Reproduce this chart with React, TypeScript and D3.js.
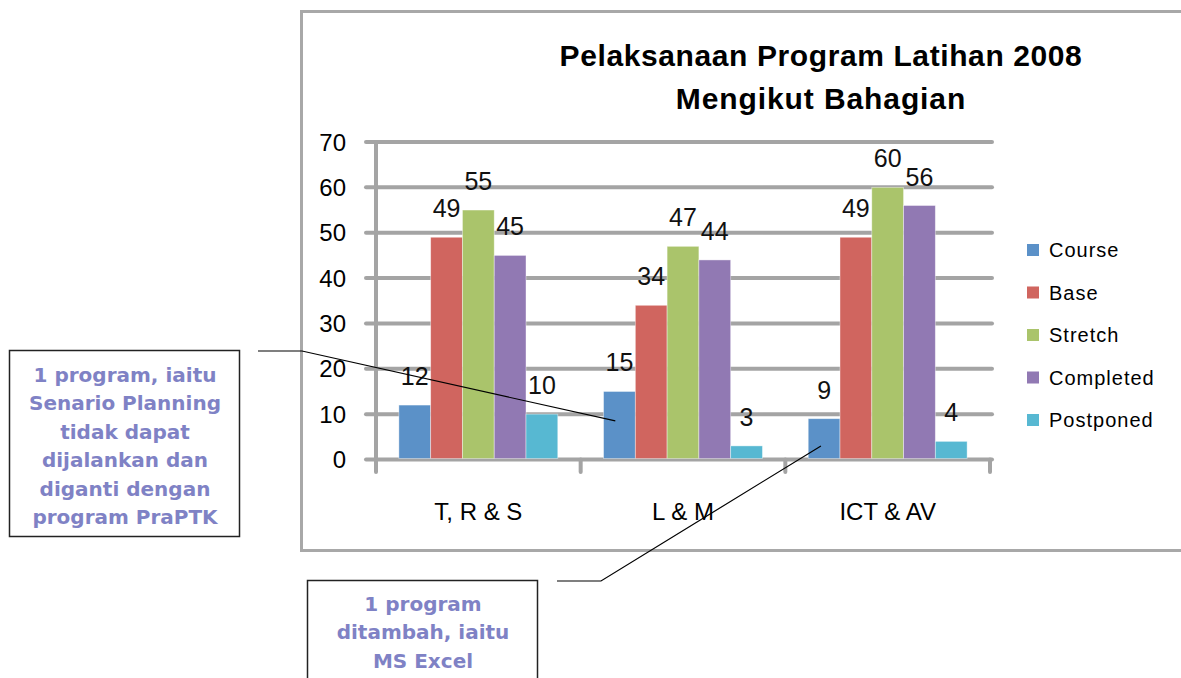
import React from 'react';
import * as d3 from 'd3';

// data
const categories = ['T, R & S', 'L & M', 'ICT & AV'];
const seriesNames = ['Course', 'Base', 'Stretch', 'Completed', 'Postponed'];
const course = [12, 15, 9];
const base = [49, 34, 49];
const stretch = [55, 47, 60];
const completed = [45, 44, 56];
const postponed = [10, 3, 4];
const yTicks = [0, 10, 20, 30, 40, 50, 60, 70];
const titleLines = ['Pelaksanaan Program Latihan 2008', 'Mengikut Bahagian'];
const note1 = ['1 program, iaitu', 'Senario Planning', 'tidak dapat', 'dijalankan dan', 'diganti dengan', 'program PraPTK'];
const note2 = ['1 program', 'ditambah, iaitu', 'MS Excel'];

const seriesValues = [course, base, stretch, completed, postponed];
const colors = ['#5B91C8', '#D0655F', '#AAC46B', '#9179B3', '#57B8D2'];

const W = 1181;
const H = 678;
const FONT = "'Liberation Sans', Arial, sans-serif";
const NOTE_FONT = "'DejaVu Sans', sans-serif";
const NOTE_COLOR = '#7F82C5';
const GRID = '#A4A4A4';

export default function App() {
  // 比例尺
  const x0 = d3.scaleBand<string>().domain(categories).range([376, 990]).padding(0);
  const x1 = d3.scaleBand<string>().domain(seriesNames).range([0, x0.bandwidth()]).paddingInner(0).paddingOuter(0.72);
  const y = d3.scaleLinear().domain([0, 70]).range([459.5, 142]);
  const bw = x1.bandwidth();

  const bars = categories.flatMap((c, ci) =>
    seriesNames.map((s, si) => ({ cat: c, series: s, value: seriesValues[si][ci], color: colors[si] }))
  );

  // callout targets
  const t1x = (x0('L & M') as number) + (x1('Course') as number) + bw * 0.37;
  const t1y = y(8.5);
  const t2x = (x0('ICT & AV') as number) + (x1('Course') as number) + bw * 0.4;
  const t2y = y(3);

  const [xLeft, xRight] = x0.range();

  return (
    <div style={{ position: 'absolute', left: 0, top: 0 }}>
      <svg width={W} height={H} style={{ display: 'block', background: '#fff' }}>
        {/* chart frame */}
        <rect x={301.5} y={11.5} width={900} height={539} fill="#fff" stroke="#A8A8A8" strokeWidth={3} />

        {/* title */}
        {titleLines.map((t, i) => (
          <text key={t} x={821} y={66 + i * 43} textAnchor="middle" fontFamily={FONT} fontWeight="bold"
            fontSize={30} letterSpacing={i === 0 ? 0.6 : 0.9} fill="#000">{t}</text>
        ))}

        {/* gridlines */}
        {yTicks.map(v => (
          <line key={v} x1={366} x2={xRight + 2} y1={y(v)} y2={y(v)} stroke={GRID} strokeWidth={4} strokeLinecap="round" />
        ))}
        {/* y axis */}
        <line x1={xLeft} x2={xLeft} y1={y(70)} y2={472} stroke={GRID} strokeWidth={4} />
        {/* x ticks */}
        {[...categories.map(c => x0(c) as number), xRight].map((tx, i) => (
          <line key={i} x1={tx} x2={tx} y1={y(0)} y2={472} stroke={GRID} strokeWidth={4} strokeLinecap="round" />
        ))}

        {/* tick labels */}
        {yTicks.map(v => (
          <text key={v} x={346} y={y(v) + 8.5} textAnchor="end" fontFamily={FONT} fontSize={24} fill="#000">{v}</text>
        ))}

        {/* bars */}
        {bars.map(d => (
          <rect key={d.cat + d.series}
            x={(x0(d.cat) as number) + (x1(d.series) as number)}
            y={y(d.value)}
            width={bw}
            height={y(0) - y(d.value) - 1}
            fill={d.color}
            stroke="#ffffff" strokeOpacity={0.5} strokeWidth={0.8} />
        ))}

        {/* value labels */}
        {bars.map(d => (
          <text key={'l' + d.cat + d.series}
            x={(x0(d.cat) as number) + (x1(d.series) as number) + bw / 2}
            y={y(d.value) - 20}
            textAnchor="middle" fontFamily={FONT} fontSize={25} fill="#111">{d.value}</text>
        ))}

        {/* category labels */}
        {categories.map(c => (
          <text key={c} x={(x0(c) as number) + x0.bandwidth() / 2} y={520} textAnchor="middle"
            fontFamily={FONT} fontSize={24} fill="#000">{c}</text>
        ))}

        {/* legend */}
        {seriesNames.map((s, i) => (
          <g key={s} transform={`translate(1027, ${250 + i * 42.5})`}>
            <rect x={0} y={-6} width={12} height={12} fill={colors[i]} />
            <text x={22} y={0} dy="0.36em" fontFamily={FONT} fontSize={20} letterSpacing={1} fill="#000">{s}</text>
          </g>
        ))}

        {/* leader lines */}
        <polyline points={`258,351 302,351 ${t1x},${t1y}`} fill="none" stroke="#000" strokeWidth={1.2} />
        <polyline points={`557,581 601,581 ${t2x},${t2y}`} fill="none" stroke="#000" strokeWidth={1.2} />

        {/* callout 1 */}
        <rect x={9.5} y={350.5} width={230} height={186} fill="#fff" stroke="#222" strokeWidth={1.5} />
        {note1.map((t, i) => (
          <text key={t} x={125} y={382 + i * 28.4} textAnchor="middle" fontFamily={NOTE_FONT}
            fontWeight="bold" fontSize={20} fill={NOTE_COLOR}>{t}</text>
        ))}

        {/* callout 2 */}
        <rect x={307.5} y={580.5} width={230} height={120} fill="#fff" stroke="#222" strokeWidth={1.5} />
        {note2.map((t, i) => (
          <text key={t} x={423} y={611 + i * 28.4} textAnchor="middle" fontFamily={NOTE_FONT}
            fontWeight="bold" fontSize={20} fill={NOTE_COLOR}>{t}</text>
        ))}
      </svg>
    </div>
  );
}
